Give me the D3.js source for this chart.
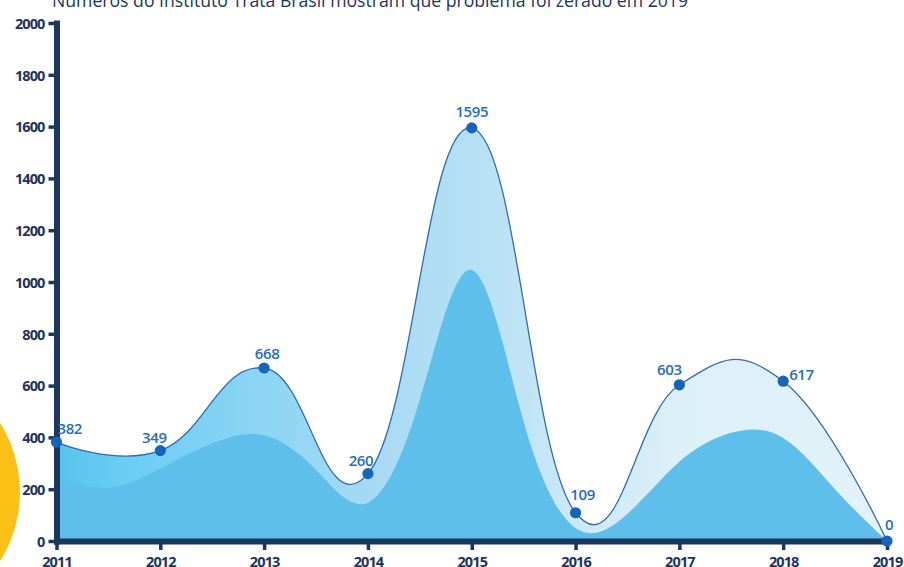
<!DOCTYPE html>
<html>
<head>
<meta charset="utf-8">
<script src="https://cdn.jsdelivr.net/npm/d3@7"></script>
<style>
  html, body { margin: 0; padding: 0; background: #ffffff; overflow: hidden; }
  svg { display: block; }
</style>
</head>
<body>
<svg id="chart" width="904" height="567"></svg>
<script>
// ---- data ----
const title = "Números do Instituto Trata Brasil mostram que problema foi zerado em 2019";
const years = [2011, 2012, 2013, 2014, 2015, 2016, 2017, 2018, 2019];
const values = [382, 349, 668, 260, 1595, 109, 603, 617, 0];
// inner layer, sampled every half year
const innerYears = [2011, 2011.5, 2012, 2012.5, 2013, 2013.5, 2014, 2014.5, 2015,
                    2015.5, 2016, 2016.5, 2017, 2017.5, 2018, 2018.5, 2019];
const innerValues = [248, 206, 280, 377, 408, 274, 148, 545, 1046,
                     460, 50, 105, 306, 418, 398, 200, 0];
const yTicks = [0, 200, 400, 600, 800, 1000, 1200, 1400, 1600, 1800, 2000];

// ---- layout ----
const svg = d3.select("#chart");
const navy = "#1b365f";
const x = d3.scaleLinear().domain([2011, 2019]).range([56.5, 887]);
const y = d3.scaleLinear().domain([0, 2000]).range([541, 23]);

const outer = years.map((yr, i) => ({ year: yr, value: values[i] }));
const inner = innerYears.map((yr, i) => ({ year: yr, value: innerValues[i] }));

// decorative yellow disc on the left edge
svg.append("circle")
  .attr("cx", -110).attr("cy", 492).attr("r", 130)
  .attr("fill", "#fcc017");

// horizontal fade of the outer band
const defs = svg.append("defs");
const grad = defs.append("linearGradient")
  .attr("id", "bandFade")
  .attr("gradientUnits", "userSpaceOnUse")
  .attr("x1", x(2011)).attr("x2", x(2019))
  .attr("y1", 0).attr("y2", 0);
[
  [0, "#57c3ee"], [0.08, "#6acdf3"], [0.25, "#8dd5f4"], [0.4, "#a9dbf3"],
  [0.52, "#b8e1f4"], [0.62, "#cbe8f6"], [0.75, "#dcf0f8"], [1, "#e3f2f8"]
].forEach(([o, c]) => grad.append("stop").attr("offset", o).attr("stop-color", c));

const outerCurve = d3.curveCardinal.tension(-0.3);

const outerArea = d3.area()
  .x(d => x(d.year)).y0(y(0)).y1(d => y(d.value))
  .curve(outerCurve);
const outerLine = d3.line()
  .x(d => x(d.year)).y(d => y(d.value))
  .curve(outerCurve);
const innerArea = d3.area()
  .x(d => x(d.year)).y0(y(0)).y1(d => y(Math.max(0, d.value)))
  .curve(d3.curveNatural);

svg.append("path").datum(outer)
  .attr("d", outerArea)
  .attr("fill", "url(#bandFade)");

svg.append("path").datum(inner)
  .attr("d", innerArea)
  .attr("fill", "#5ebfea");

svg.append("path").datum(outer)
  .attr("d", outerLine)
  .attr("fill", "none")
  .attr("stroke", "#2f6cb5")
  .attr("stroke-width", 1.3);

// ---- title ----
svg.append("text")
  .attr("x", 52).attr("y", 7)
  .attr("textLength", 636)
  .attr("lengthAdjust", "spacingAndGlyphs")
  .attr("font-family", "Open Sans, sans-serif")
  .attr("font-size", 19)
  .attr("font-weight", 500)
  .attr("fill", "#1d3461")
  .text(title);

// ---- axes ----
function styleAxis(g) {
  g.select(".domain")
    .attr("stroke", navy)
    .attr("stroke-width", 6)
    .attr("stroke-linecap", "square");
  g.selectAll(".tick line")
    .attr("stroke", navy)
    .attr("stroke-width", 3.5);
  g.selectAll(".tick text")
    .attr("fill", "#1d3461")
    .attr("font-family", "Open Sans, sans-serif")
    .attr("font-weight", 700)
    .attr("font-size", 14.5)
    .attr("letter-spacing", -0.9);
}

svg.append("g")
  .attr("transform", `translate(0,${y(0)})`)
  .call(d3.axisBottom(x).tickValues(years).tickFormat(d3.format("d"))
    .tickSize(9).tickSizeOuter(0).tickPadding(7))
  .call(styleAxis);

svg.append("g")
  .attr("transform", `translate(${x(2011)},0)`)
  .call(d3.axisLeft(y).tickValues(yTicks).tickFormat(d3.format("d"))
    .tickSize(8).tickSizeOuter(0).tickPadding(4))
  .call(styleAxis)
  .call(g => g.selectAll(".tick text").attr("dy", "0.36em"));

// ---- points and value labels ----
const labelPos = [
  { dx: 1, dy: -8, anchor: "start" },
  { dx: -6, dy: -8, anchor: "middle" },
  { dx: 3, dy: -9, anchor: "middle" },
  { dx: -7, dy: -8, anchor: "middle" },
  { dx: 0, dy: -11, anchor: "middle" },
  { dx: 7, dy: -13, anchor: "middle" },
  { dx: -10, dy: -10, anchor: "middle" },
  { dx: 6, dy: -1, anchor: "start" },
  { dx: 2, dy: -11, anchor: "middle" }
];

svg.append("g").selectAll("circle")
  .data(outer)
  .join("circle")
  .attr("cx", d => x(d.year))
  .attr("cy", d => y(d.value))
  .attr("r", 5.6)
  .attr("fill", "#1565b8");

svg.append("g").selectAll("text")
  .data(outer)
  .join("text")
  .attr("x", (d, i) => x(d.year) + labelPos[i].dx)
  .attr("y", (d, i) => y(d.value) + labelPos[i].dy)
  .attr("text-anchor", (d, i) => labelPos[i].anchor)
  .attr("font-family", "Open Sans, sans-serif")
  .attr("font-weight", 600)
  .attr("font-size", 15)
  .attr("letter-spacing", -0.4)
  .attr("fill", "#1e6fbf")
  .text(d => d3.format("d")(d.value));
</script>
</body>
</html>
